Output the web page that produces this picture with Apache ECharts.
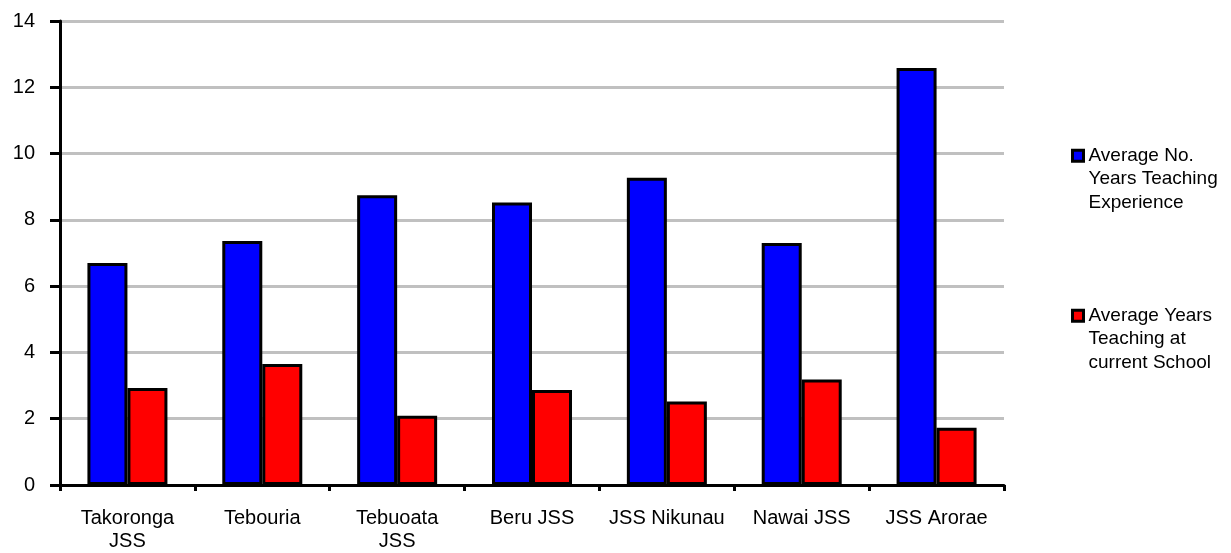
<!DOCTYPE html>
<html>
<head>
<meta charset="utf-8">
<script src="https://cdn.jsdelivr.net/npm/echarts@6/dist/echarts.min.js"></script>
<style>
  html, body { margin: 0; padding: 0; background: #fff; }
  #chart { width: 1231px; height: 553px; }
</style>
</head>
<body>
<div id="chart"></div>
<script>
const schools = ['Takoronga\nJSS', 'Tebouria', 'Tebuoata\nJSS', 'Beru JSS', 'JSS Nikunau', 'Nawai JSS', 'JSS Arorae'];
const experienceYears = [6.70, 7.36, 8.74, 8.52, 9.27, 7.30, 12.58];
const currentSchoolYears = [2.93, 3.65, 2.09, 2.87, 2.52, 3.18, 1.73];
const seriesNames = ['Average No.\nYears Teaching\nExperience', 'Average Years\nTeaching at\ncurrent School'];

const font = 'Arial, "Liberation Sans", sans-serif';
const legendLine = 23.5;

const chart = echarts.init(document.getElementById('chart'), null, { renderer: 'canvas' });

// legend text is centred on the marker, so two blank lines in front
// put the first real line beside it
function legendFor(name, top) {
  return {
    data: [name],
    orient: 'vertical',
    left: 1071,
    top: top,
    padding: 0,
    itemWidth: 11,
    itemHeight: 11,
    icon: 'rect',
    itemStyle: { borderColor: '#000', borderWidth: 3 },
    formatter: n => '\n\n' + n,
    textStyle: {
      fontFamily: font,
      fontSize: 19,
      color: '#000',
      lineHeight: legendLine
    },
    selectedMode: false
  };
}

const option = {
  animation: false,
  backgroundColor: '#fff',
  grid: { left: 60, right: 227, top: 21, bottom: 65, containLabel: false },
  legend: [
    legendFor(seriesNames[0], 97),
    legendFor(seriesNames[1], 257)
  ],
  xAxis: {
    type: 'category',
    data: schools,
    axisLine: { lineStyle: { color: '#000', width: 3 } },
    axisTick: { show: true, length: 6, lineStyle: { color: '#000', width: 3 } },
    axisLabel: {
      color: '#000',
      fontFamily: font,
      fontSize: 20,
      lineHeight: 23,
      margin: 22,
      interval: 0
    },
    splitLine: { show: false }
  },
  yAxis: {
    type: 'value',
    min: 0,
    max: 14,
    interval: 2,
    axisLine: { show: true, lineStyle: { color: '#000', width: 3 } },
    axisTick: { show: true, length: 10, lineStyle: { color: '#000', width: 3 } },
    axisLabel: { color: '#000', fontFamily: font, fontSize: 20, margin: 25 },
    splitLine: { show: true, lineStyle: { color: '#c0c0c0', width: 3 } }
  },
  series: [
    {
      name: seriesNames[0],
      type: 'bar',
      data: experienceYears,
      barWidth: 40,
      barGap: '0%',
      itemStyle: { color: '#0000ff', borderColor: '#000', borderWidth: 3 }
    },
    {
      name: seriesNames[1],
      type: 'bar',
      data: currentSchoolYears,
      barWidth: 40,
      barGap: '0%',
      itemStyle: { color: '#ff0000', borderColor: '#000', borderWidth: 3 }
    }
  ]
};

chart.setOption(option);
</script>
</body>
</html>
